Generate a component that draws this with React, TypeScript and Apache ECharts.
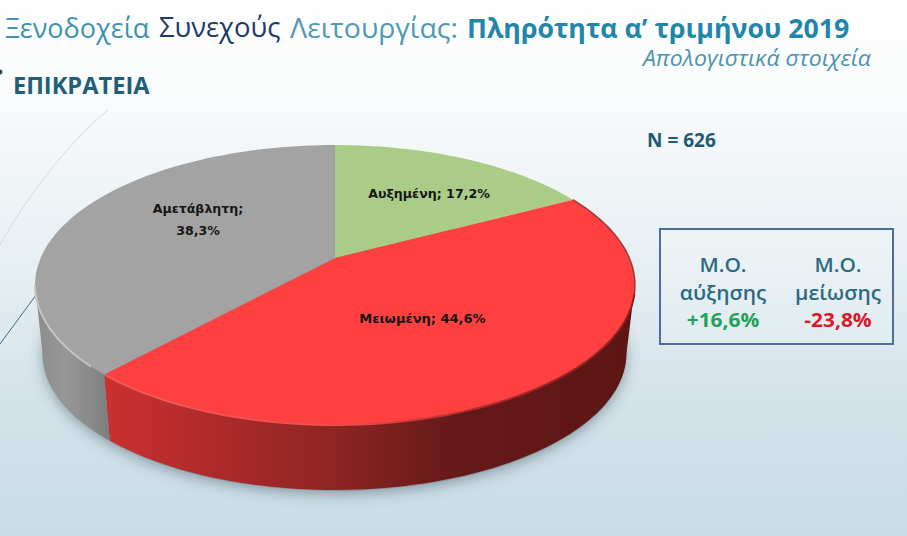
import React, { useEffect, useRef } from "react";
import * as echarts from "echarts";

const categories = ["Αυξημένη", "Μειωμένη", "Αμετάβλητη"];
const shares = [17.2, 44.6, 38.3];
const sliceColors = ["#a9cd87", "#ff4040", "#a3a3a3"];
const sampleSize = ["N = 626"];
const avgHeads = [["Μ.Ο.", "αύξησης"], ["Μ.Ο.", "μείωσης"]];
const avgValues = ["+16,6%", "-23,8%"];

const W = 907;
const H = 536;
const APEX = [335, 258];
const TOP = { cx: 335, cy: 285, rx: 300, ry: 140 };
const BOT = { cx: 334.5, cy: 353, rx: 292, ry: 137 };
const A = (APEX[1] - TOP.cy) / TOP.ry; // where the apex falls inside the tilted ellipse
const K = Math.sqrt(1 - A * A);
const SANS = '"Open Sans", "Noto Sans", sans-serif';
const LABEL_FONT = '"DejaVu Sans", sans-serif';
const LABEL_ANCHORS = [
  { x: 429, y: 193, sep: " ", sx: 0.97 },
  { x: 422.5, y: 318, sep: " ", sx: 1 },
  { x: 198, y: 219, sep: "\n", sx: 0.97 },
];

// projects a share of the circle (0..1 clockwise from the top) onto the tilted disc
function unit(t: number) {
  const th = t * Math.PI * 2;
  const x = Math.sin(th);
  const y = -Math.cos(th);
  const d = 1 + A * y;
  return { x: (x * K) / d, y: (y + A) / d };
}
const on = (e: typeof TOP, t: number) => {
  const u = unit(t);
  return [e.cx + u.x * e.rx, e.cy + u.y * e.ry];
};
function arc(e: typeof TOP, a: number, b: number) {
  const n = Math.max(2, Math.ceil((b - a) * 200));
  const pts: number[][] = [];
  for (let i = 0; i <= n; i++) pts.push(on(e, a + ((b - a) * i) / n));
  return pts;
}
// shares where the wall is visible (front half of the projected ellipse)
const FRONT_A = Math.acos(A) / (Math.PI * 2);
const FRONT_B = 1 - FRONT_A;

const sideGrad: Record<number, any> = {
  1: {
    type: "linear", x: 107, y: 0, x2: 627, y2: 0, global: true,
    colorStops: [
      { offset: 0, color: "#cb3030" },
      { offset: 0.43, color: "#8f2424" },
      { offset: 0.66, color: "#661a18" },
      { offset: 1, color: "#5c1614" },
    ],
  },
  2: {
    type: "linear", x: 36, y: 0, x2: 111, y2: 0, global: true,
    colorStops: [
      { offset: 0, color: "#8c8c8c" },
      { offset: 0.4, color: "#979797" },
      { offset: 1, color: "#7d7d7d" },
    ],
  },
};
const rimColor: Record<number, any> = {
  1: {
    type: "linear", x: 107, y: 0, x2: 634, y2: 0, global: true,
    colorStops: [
      { offset: 0, color: "#ee5c5c" },
      { offset: 0.45, color: "#ee4c4c" },
      { offset: 0.72, color: "#a82a28" },
      { offset: 1, color: "#8a2220" },
    ],
  },
  2: "#c4c4c4",
};

const starts = shares.map((_, i) => shares.slice(0, i).reduce((a, b) => a + b, 0));
const total = shares.reduce((a, b) => a + b, 0);
const fmt = (v: number) => String(v).replace(".", ",") + "%";

const text = (x: number, y: number, t: string, fill: string, size: number, o: any = {}) => ({
  type: "text",
  x,
  y,
  z: 10,
  scaleX: o.sx ?? 1,
  style: {
    text: t,
    fill,
    fontSize: size,
    fontFamily: o.family ?? SANS,
    fontWeight: o.weight ?? "normal",
    fontStyle: o.style ?? "normal",
    textAlign: o.align ?? "left",
    textVerticalAlign: "middle",
  },
});

export default function App() {
  const ref = useRef<HTMLDivElement>(null);
  useEffect(() => {
    document.body.style.margin = "0";
    const chart = echarts.init(ref.current!, null, { renderer: "svg" });
    chart.setOption({
      animation: false,
      backgroundColor: {
        type: "linear", x: 0, y: 0, x2: 0, y2: 1,
        colorStops: [
          { offset: 0, color: "#ffffff" },
          { offset: 0.2, color: "#f8fafb" },
          { offset: 0.5, color: "#e6eff3" },
          { offset: 0.75, color: "#d3e3ea" },
          { offset: 1, color: "#c8dde5" },
        ],
      },
      graphic: [
        {
          type: "ellipse", z: 0,
          shape: { cx: BOT.cx, cy: BOT.cy + 1, rx: BOT.rx, ry: BOT.ry },
          style: { fill: "#8a9aa2", shadowColor: "rgba(50,70,85,0.45)", shadowBlur: 14, shadowOffsetY: 3 },
        },
        {
          type: "bezierCurve", z: 1,
          shape: { x1: 108, y1: 110, cpx1: 65, cpy1: 145, cpx2: 22, cpy2: 205, x2: 0, y2: 245 },
          style: { stroke: "#d5dade", lineWidth: 1, fill: "none" },
        },
        {
          type: "line", z: 1,
          shape: { x1: 36, y1: 295, x2: 0, y2: 344 },
          style: { stroke: "#3f6a88", lineWidth: 1 },
        },
        { type: "circle", z: 1, shape: { cx: 0, cy: 72, r: 2.5 }, style: { fill: "#2a4a5a" } },
        text(5, 27, "Ξενοδοχεία", "#3f93ad", 27),
        text(159, 27, "Συνεχούς", "#1f3a66", 27, { sx: 1.015 }),
        text(290, 27, "Λειτουργίας:", "#4f9ab3", 27, { sx: 1.053 }),
        text(467, 27, "Πληρότητα α’ τριμήνου 2019", "#2186aa", 27, { weight: "bold", sx: 0.99 }),
        text(871, 58, "Απολογιστικά στοιχεία", "#4f94ad", 22, { style: "italic", align: "right", sx: 1.05 }),
        text(13, 85, "ΕΠΙΚΡΑΤΕΙΑ", "#1f5f7a", 24, { weight: "bold", sx: 0.985 }),
        text(647, 140, sampleSize[0], "#1f5a70", 19, { weight: "bold" }),
        {
          type: "rect", z: 5,
          shape: { x: 660, y: 229, width: 233, height: 115 },
          style: { fill: "rgba(255,255,255,0.15)", stroke: "#4f6c9c", lineWidth: 2 },
        },
        ...avgHeads.flatMap((h, i) => [
          text(723 + i * 115, 265, h[0], "#2a6a85", 19, { align: "center", weight: 600, sx: 1.1 }),
          text(723 + i * 115, 293, h[1], "#2a6a85", 19, { align: "center", weight: 600, sx: 1.1 }),
        ]),
        text(723, 320, avgValues[0], "#1fa35a", 19, { align: "center", weight: "bold", sx: 1.1 }),
        text(838, 320, avgValues[1], "#d8192a", 19, { align: "center", weight: "bold", sx: 1.1 }),
      ],
      series: [
        {
          type: "custom",
          coordinateSystem: "none",
          data: shares.map((v, i) => ({ name: categories[i], value: [v, starts[i]] })),
          renderItem: (params: any, api: any) => {
            const i = params.dataIndex;
            const a = api.value(1) / total;
            const b = a + api.value(0) / total;
            const children: any[] = [];
            const fa = Math.max(a, FRONT_A);
            const fb = Math.min(b, FRONT_B);
            if (fb > fa) {
              children.push({
                type: "polygon",
                shape: { points: [...arc(TOP, fa, fb), ...arc(BOT, fa, fb).reverse()] },
                style: { fill: sideGrad[i] },
              });
            }
            children.push({
              type: "polygon",
              shape: { points: [APEX, ...arc(TOP, a, b)] },
              style: { fill: sliceColors[i] },
            });
            if (fb > fa) {
              children.push({
                type: "polyline",
                shape: { points: arc(TOP, fa + 0.01, fb) },
                style: { stroke: rimColor[i], lineWidth: 2, fill: "none" },
              });
            }
            if (a < FRONT_A && fb > fa) {
              children.push({
                type: "polyline",
                shape: { points: arc(TOP, a, fa + 0.01) },
                style: { stroke: "rgba(125,35,32,0.75)", lineWidth: 1.5, fill: "none" },
              });
            }
            const anchor = LABEL_ANCHORS[i];
            children.push({
              type: "text",
              x: anchor.x,
              y: anchor.y,
              scaleX: anchor.sx,
              style: {
                text: categories[i] + ";" + anchor.sep + fmt(api.value(0)),
                fill: "#161616",
                fontSize: 13,
                lineHeight: 22,
                fontFamily: LABEL_FONT,
                fontWeight: "bold",
                textAlign: "center",
                textVerticalAlign: "middle",
              },
            });
            return { type: "group", children };
          },
        },
      ],
    });
    return () => chart.dispose();
  }, []);
  return <div ref={ref} style={{ width: W, height: H }} />;
}
